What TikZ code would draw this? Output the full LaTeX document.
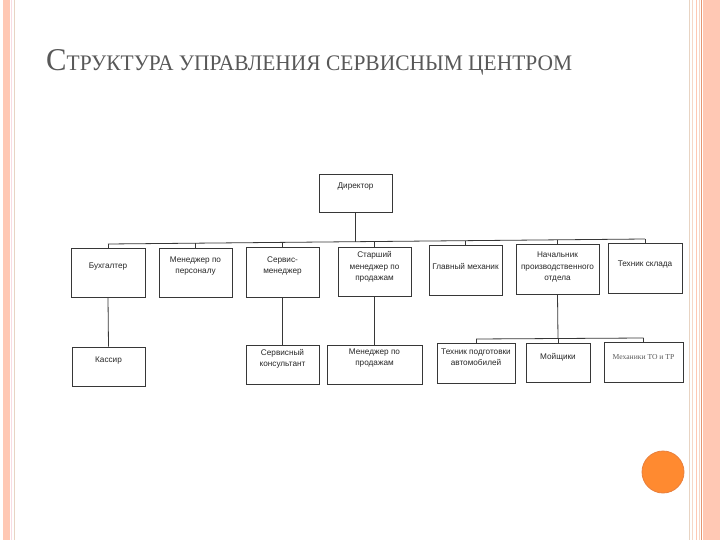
\documentclass[tikz,border=0pt]{standalone}
\usepackage{fontspec}
\setmainfont{Liberation Serif}
\newfontfamily\boxfont{Liberation Sans}
\newfontfamily\titlefont{Liberation Serif}
\newfontfamily\serifbox{Liberation Serif}
\definecolor{peach}{RGB}{255,200,180}
\definecolor{peachdark}{RGB}{228,150,115}
\definecolor{peachlight}{RGB}{245,215,200}
\definecolor{tanline}{RGB}{232,212,195}
\definecolor{pinkline}{RGB}{248,220,228}
\definecolor{dotorange}{RGB}{255,138,48}
\definecolor{dotedge}{RGB}{232,128,62}
\definecolor{titlegray}{RGB}{88,88,88}
\definecolor{boxline}{RGB}{55,55,55}
\definecolor{boxtextc}{RGB}{40,40,40}
\begin{document}
\begin{tikzpicture}[x=1pt,y=-1pt,
  orgbox/.style={draw=boxline, line width=0.85pt, fill=white, inner sep=0pt, rectangle},
  orgtext/.style={font=\boxfont\fontsize{8.2}{11.4}\selectfont, text=boxtextc, align=center, inner sep=0pt},
  orgline/.style={draw=boxline, line width=0.8pt}]
\useasboundingbox (0,0) rectangle (720,540);
\fill[white] (0,0) rectangle (720,540);
% left border
\fill[peach] (3,0) rectangle (9.5,540);
\draw[pinkline, line width=1pt] (11,0) -- (11,540);
\draw[tanline, line width=1pt] (14,0) -- (14,540);
% right border
\draw[tanline, line width=1.5pt] (689.5,0) -- (689.5,540);
\draw[peachlight, line width=1.2pt] (692.5,0) -- (692.5,540);
\draw[peach, line width=1.5pt] (696.5,0) -- (696.5,540);
\draw[peachlight, line width=1pt] (699,0) -- (699,540);
\draw[peachdark, line width=1.5pt] (701.5,0) -- (701.5,540);
\fill[peach] (702.5,0) rectangle (720,540);
% dot
\filldraw[fill=dotorange, draw=dotedge, line width=0.8pt] (663,472) circle (21);
% title
\node[anchor=base west, inner sep=0pt, text=titlegray] (title) at (46,70.5)
  {\resizebox{526pt}{21pt}{\titlefont{\fontsize{30}{30}\selectfont С}{\fontsize{21}{21}\selectfont ТРУКТУРА УПРАВЛЕНИЯ СЕРВИСНЫМ ЦЕНТРОМ}}};
% boxes
\node[orgbox, minimum width=73pt, minimum height=38pt, label={[orgtext, yshift=6pt]center:Директор}] (dir) at (355.5,193) {};
\node[orgbox, minimum width=74pt, minimum height=49pt, label={[orgtext, yshift=5.5pt]center:Бухгалтер}] (buh) at (108,272.5) {};
\node[orgbox, minimum width=73pt, minimum height=49pt, label={[orgtext, yshift=6.5pt]center:Менеджер по\\персоналу}] (pers) at (195.5,272.5) {};
\node[orgbox, minimum width=73pt, minimum height=50pt, label={[orgtext, yshift=6pt]center:Сервис-\\менеджер}] (serv) at (282.5,272) {};
\node[orgbox, minimum width=73pt, minimum height=49pt, label={[orgtext, yshift=4.5pt]center:Старший\\менеджер по\\продажам}] (star) at (374.5,271.5) {};
\node[orgbox, minimum width=73pt, minimum height=50pt, label={[orgtext, yshift=4pt]center:Главный механик}] (glav) at (465.5,270) {};
\node[orgbox, minimum width=83pt, minimum height=50pt, label={[orgtext, yshift=2pt]center:Начальник\\производственного\\отдела}] (nach) at (557.5,269) {};
\node[orgbox, minimum width=74pt, minimum height=50pt, label={[orgtext, yshift=4pt]center:Техник склада}] (tech) at (645,268) {};
\node[orgbox, minimum width=73pt, minimum height=39pt, label={[orgtext, yshift=5.5pt]center:Кассир}] (kass) at (108.5,366.5) {};
\node[orgbox, minimum width=73pt, minimum height=39pt, label={[orgtext, yshift=5.5pt]center:Сервисный\\консультант}] (kons) at (282.5,364.5) {};
\node[orgbox, minimum width=95pt, minimum height=39pt, label={[orgtext, yshift=6.5pt]center:Менеджер по\\продажам}] (mprod) at (374.5,364.5) {};
\node[orgbox, minimum width=78pt, minimum height=40pt, label={[orgtext, yshift=6pt]center:Техник подготовки\\автомобилей}] (tpod) at (476,363) {};
\node[orgbox, minimum width=64pt, minimum height=39pt, label={[orgtext, yshift=5pt]center:Мойщики}] (moi) at (558,362.5) {};
\node[orgbox, minimum width=79pt, minimum height=40pt, label={[orgtext, yshift=5pt, font=\serifbox\fontsize{7.6}{9}\selectfont, text=titlegray]center:Механики ТО и ТР}] (mekh) at (643.5,362) {};
% top bus
\coordinate (busL) at (108,244);
\coordinate (busR) at (645,239);
\coordinate (bd) at (355.5,241.7);
\coordinate (b2) at (195.5,243.2);
\coordinate (b3) at (282.5,242.4);
\coordinate (b4) at (374.5,241.5);
\coordinate (b5) at (465.5,240.7);
\coordinate (b6) at (557.5,239.8);
\draw[orgline] (busL) -- (busR);
\draw[orgline] (dir.south) -- (bd);
\draw[orgline] (busL) -- (buh.north);
\draw[orgline] (b2) -- (pers.north);
\draw[orgline] (b3) -- (serv.north);
\draw[orgline] (b4) -- (star.north);
\draw[orgline] (b5) -- (glav.north);
\draw[orgline] (b6) -- (nach.north);
\draw[orgline] (busR) -- (tech.north);
% second level
\draw[orgline] (buh.south) -- (kass.north);
\draw[orgline] (serv.south) -- (kons.north);
\draw[orgline] (star.south) -- (mprod.north);
\coordinate (c2L) at (476,339);
\coordinate (c2M) at (558,338.5);
\coordinate (c2R) at (643.5,338);
\draw[orgline] (c2L) -- (c2R);
\draw[orgline] (nach.south) -- (c2M);
\draw[orgline] (c2M) -- (moi.north);
\draw[orgline] (c2L) -- (tpod.north);
\draw[orgline] (c2R) -- (mekh.north);
\end{tikzpicture}
\end{document}
